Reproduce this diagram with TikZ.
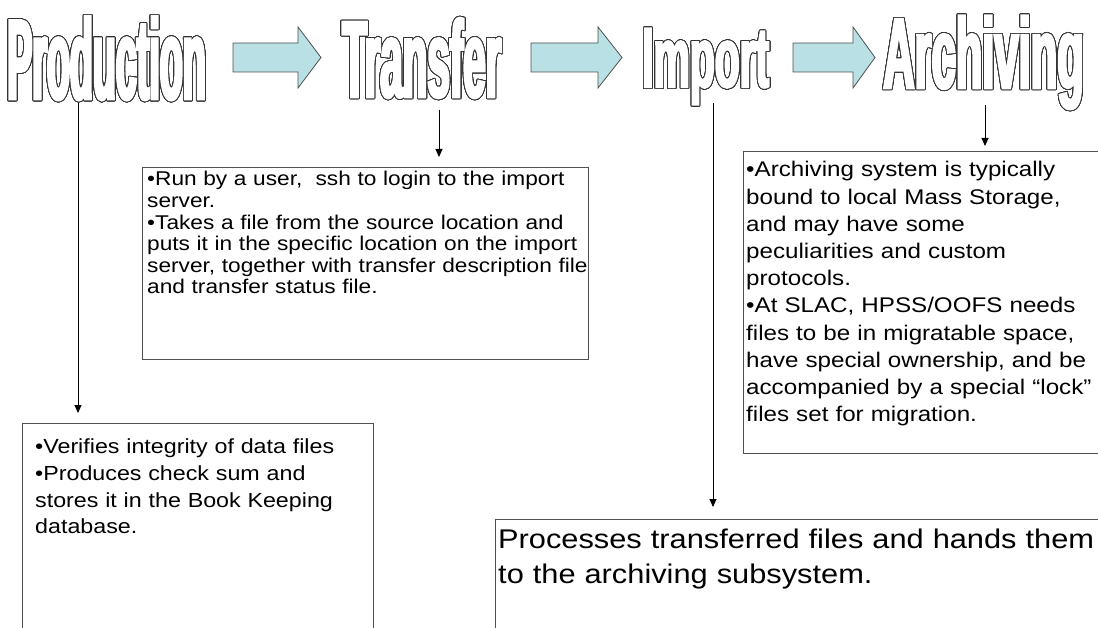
\documentclass[tikz,border=0pt]{standalone}
\usepackage{fontspec}
\usepackage[copies]{contour}
\usetikzlibrary{arrows.meta}
\setmainfont{Liberation Sans}
\newfontfamily\bodyf[FakeStretch=1.14]{Liberation Sans}
\newfontfamily\headP[FakeStretch=0.33,FakeBold=2.5]{Liberation Sans Bold}
\newfontfamily\headT[FakeStretch=0.37,FakeBold=2.5]{Liberation Sans Bold}
\newfontfamily\headI[FakeStretch=0.48,FakeBold=2.5]{Liberation Sans Bold}
\newfontfamily\headA[FakeStretch=0.435,FakeBold=2.5]{Liberation Sans Bold}
\definecolor{arrowblue}{RGB}{185,224,228}
\definecolor{edgegray}{RGB}{80,80,80}
\contourlength{0.85pt}
\contournumber{32}
\newcommand{\outl}[1]{\textcolor{white}{\contour{black!80}{#1}}}
\tikzset{
  box/.style={draw=edgegray, line width=1pt, fill=white, inner sep=0pt, anchor=north west},
  txt/.style={anchor=base west, inner sep=0pt, align=left, text width=700pt},
  ttl/.style={anchor=base west, inner sep=0pt},
  arr/.style={-{Triangle[length=8pt,width=7pt]}, line width=0.9pt, black},
  blk/.style={fill=arrowblue, draw=edgegray, line width=0.8pt, line join=miter}
}
\begin{document}
\begin{tikzpicture}[x=1pt,y=-1pt]
\useasboundingbox (0,0) rectangle (1098,628);
\clip (0,0) rectangle (1098,628);
\fill[white] (0,0) rectangle (1098,628);

% titles
\node[ttl] (prod) at (7,99) {\headP\fontsize{114}{114}\selectfont\outl{Production}};
\node[ttl] (trans) at (342,97) {\headT\fontsize{109}{109}\selectfont\outl{Transfer}};
\node[ttl] (imp) at (642,87) {\headI\fontsize{85}{85}\selectfont\outl{Import}};
\node[ttl] (arch) at (883,88) {\headA\fontsize{100}{100}\selectfont\outl{Archiving}};

% block arrows
\draw[blk] (233,43) -- (298,43) -- (298,27) -- (321,57.5) -- (298,88) -- (298,72) -- (233,72) -- cycle;
\draw[blk] (531,43) -- (598,43) -- (598,27) -- (622,57.5) -- (598,88) -- (598,72) -- (531,72) -- cycle;
\draw[blk] (793,43) -- (853,43) -- (853,27) -- (875,57.5) -- (853,88) -- (853,72) -- (793,72) -- cycle;

% boxes
\node[box, minimum width=351pt, minimum height=260pt] (pbox) at (22,423) {};
\node[box, minimum width=446pt, minimum height=192pt] (tbox) at (142,167) {};
\node[box, minimum width=420pt, minimum height=302pt] (abox) at (743,151) {};
\node[box, minimum width=700pt, minimum height=200pt] (ibox) at (495,519) {};

% texts
\node[txt, font={\bodyf\fontsize{20.4}{27}\selectfont}] (ptxt) at (35,453)
 {•Verifies integrity of data files\\•Produces check sum and\\stores it in the Book Keeping\\database.};
\node[txt, font={\bodyf\fontsize{19.9}{21.6}\selectfont}] (ttxt) at (147,186)
 {•Run by a user,\ \ ssh to login to the import\\server.\\•Takes a file from the source location and\\puts it in the specific location on the import\\server, together with transfer description file\\and transfer status file.};
\node[txt, font={\bodyf\fontsize{21.2}{27.2}\selectfont}] (atxt) at (746,177)
 {•Archiving system is typically\\bound to local Mass Storage,\\and may have some\\peculiarities and custom\\protocols.\\•At SLAC, HPSS/OOFS needs\\files to be in migratable space,\\have special ownership, and be\\accompanied by a special “lock”\\files set for migration.};
\node[txt, font={\bodyf\fontsize{27}{35}\selectfont}] (itxt) at (498,548)
 {Processes transferred files and hands them\\to the archiving subsystem.};

% connectors
\coordinate (pa) at (78,103);
\coordinate (ta) at (439,110);
\coordinate (ia) at (713,103);
\coordinate (aa) at (985,105);
\draw[arr, shorten >=10pt] (pa) -- (pa |- pbox.north);
\draw[arr, shorten >=10pt] (ta) -- (ta |- tbox.north);
\draw[arr, shorten >=12pt] (ia) -- (ia |- ibox.north);
\draw[arr, shorten >=5pt] (aa) -- (aa |- abox.north);
\end{tikzpicture}
\end{document}
